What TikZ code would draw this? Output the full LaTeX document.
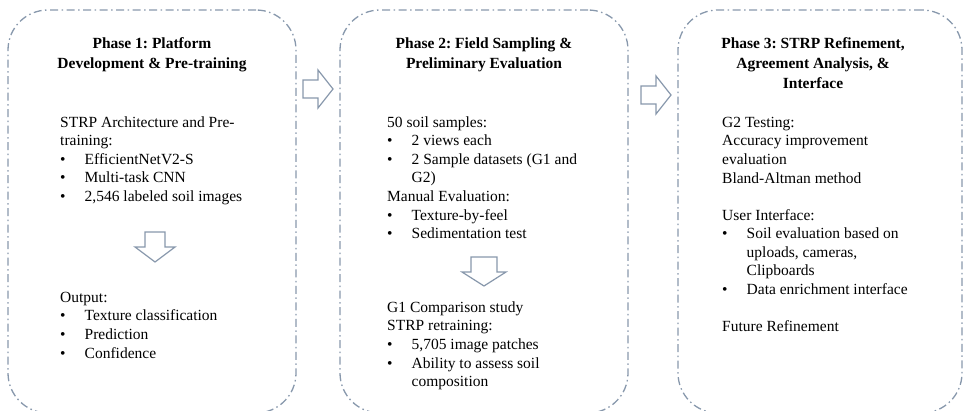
\documentclass[tikz,border=0pt]{standalone}
\usepackage{fontspec}
\setmainfont{Liberation Serif}
\definecolor{frame}{RGB}{136,152,172}
\newcommand{\fs}{\rule{0pt}{13pt}}
\newcommand{\bitem}[1]{\makebox[24.5pt][l]{\textbullet}#1}
\newcommand{\cont}[1]{\hspace*{24.5pt}#1}
\frenchspacing
\begin{document}
\begin{tikzpicture}[x=1pt,y=-1pt,
  phasebox/.style={draw=frame, line width=1.3pt, rounded corners=40pt,
    dash pattern=on 8pt off 3.5pt on 1.5pt off 3.5pt, inner sep=0pt},
  titletext/.style={anchor=north, inner sep=0pt, align=center,
    font=\fontsize{15.5}{20}\selectfont\bfseries\frenchspacing},
  bodytext/.style={anchor=north west, inner sep=0pt, align=left,
    font=\fontsize{15.5}{18.6}\selectfont\frenchspacing},
  blockarrow/.style={draw=frame, line width=1.2pt, fill=white, line join=miter}]
\useasboundingbox (0,0) rectangle (963,411);
% phase boxes
\node[phasebox, minimum width=288pt, minimum height=403pt] (p1) at (152,211.5) {};
\node[phasebox, minimum width=288pt, minimum height=403pt] (p2) at (484,211.5) {};
\node[phasebox, minimum width=284pt, minimum height=403pt] (p3) at (820,211.5) {};
% titles
\node[titletext] (t1) at (152,35) {\fs Phase 1: Platform\\Development \& Pre-training};
\node[titletext] (t2) at (484,35) {\fs Phase 2: Field Sampling \&\\Preliminary Evaluation};
\node[titletext] (t3) at (813,35) {\fs Phase 3: STRP Refinement,\\Agreement Analysis, \&\\Interface};
% phase 1 body
\node[bodytext] (b1a) at (60,114) {\fs STRP Architecture and Pre-\\training:\\
  \bitem{EfficientNetV2-S}\\\bitem{Multi-task CNN}\\\bitem{2,546 labeled soil images}};
\node[bodytext] (b1b) at (60,289) {\fs Output:\\\bitem{Texture classification}\\
  \bitem{Prediction}\\\bitem{Confidence}};
% phase 2 body
\node[bodytext] (b2a) at (387,114) {\fs 50 soil samples:\\\bitem{2 views each}\\
  \bitem{2 Sample datasets (G1 and}\\\cont{G2)}\\Manual Evaluation:\\
  \bitem{Texture-by-feel}\\\bitem{Sedimentation test}};
\node[bodytext] (b2b) at (387,299) {\fs G1 Comparison study\\STRP retraining:\\
  \bitem{5,705 image patches}\\\bitem{Ability to assess soil}\\\cont{composition}};
% phase 3 body
\node[bodytext] (b3) at (722,114) {\fs G2 Testing:\\Accuracy improvement\\evaluation\\
  Bland-Altman method\\[18.6pt]User Interface:\\\bitem{Soil evaluation based on}\\
  \cont{uploads, cameras,}\\\cont{Clipboards}\\\bitem{Data enrichment interface}\\[18.6pt]
  Future Refinement};
% block arrows
\draw[blockarrow] (303,80) -- (318,80) -- (318,70) -- (333,89) -- (318,108)
  -- (318,98) -- (303,98) -- cycle;
\draw[blockarrow] (641,86) -- (656,86) -- (656,76) -- (671,95) -- (656,114)
  -- (656,104) -- (641,104) -- cycle;
\draw[blockarrow] (145,232) -- (165,232) -- (165,247) -- (175,247) -- (155,262)
  -- (135,247) -- (145,247) -- cycle;
\draw[blockarrow] (471,257) -- (497,257) -- (497,272) -- (506,272) -- (484,286)
  -- (462,272) -- (471,272) -- cycle;
\end{tikzpicture}
\end{document}
